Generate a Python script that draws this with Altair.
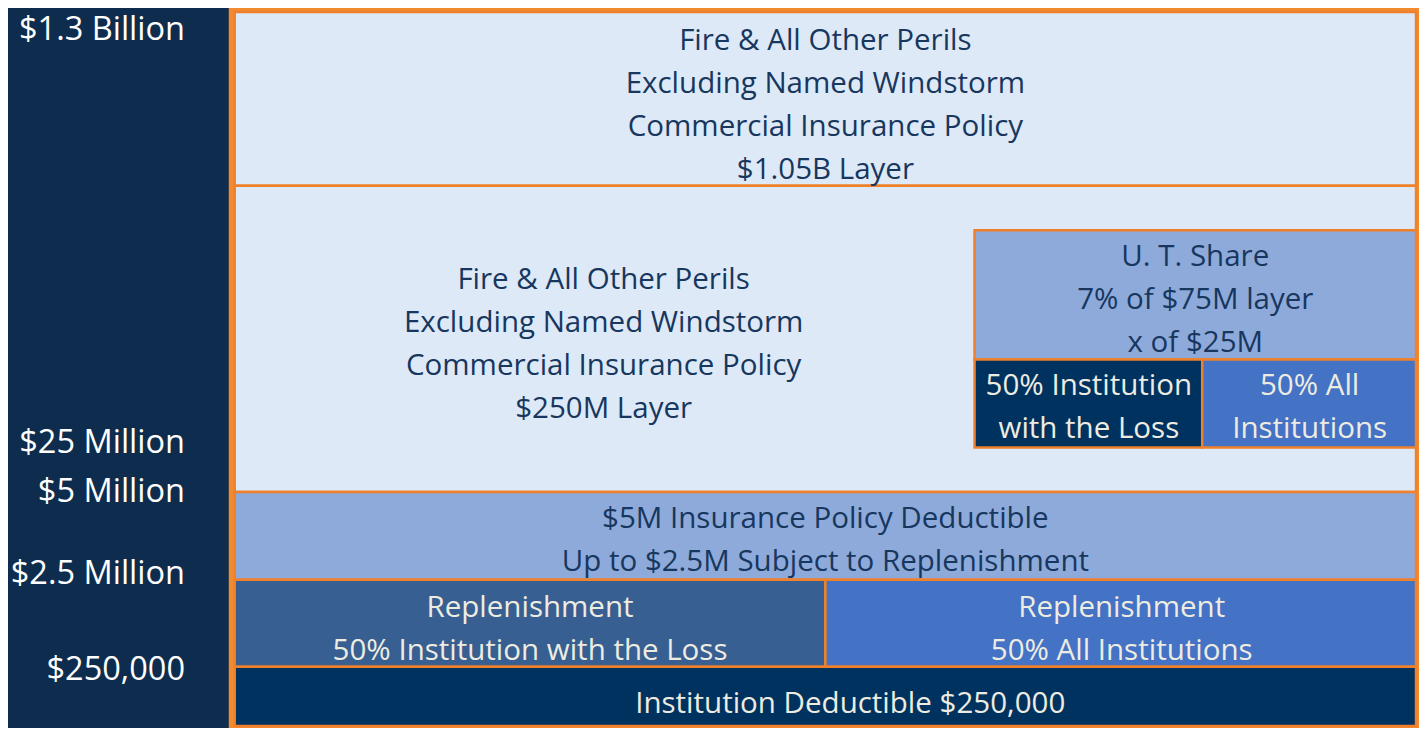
import altair as alt
import pandas as pd

# Tower coordinates (horizontal: tower columns, vertical: tower levels from top)
box_names = ["top", "middle", "ut_share", "ut_left", "ut_right",
             "deductible", "repl_left", "repl_right", "inst_deduct"]
box_x0 = [236, 236, 980, 980, 1209, 236, 236, 830, 236]
box_x1 = [1424, 1424, 1424, 1209, 1424, 1424, 830, 1424, 1424]
box_y0 = [11, 187, 232, 363, 363, 497, 586, 586, 674]
box_y1 = [187, 497, 363, 452, 452, 586, 674, 674, 734]
box_fill = ["#dde9f6", "#dde9f6", "#8eaadb", "#00325f", "#4472c4",
            "#8eaadb", "#375f92", "#4472c4", "#00325f"]

label_text = [
    "Fire & All Other Perils\nExcluding Named Windstorm\nCommercial Insurance Policy\n$1.05B Layer",
    "Fire & All Other Perils\nExcluding Named Windstorm\nCommercial Insurance Policy\n$250M Layer",
    "U. T. Share\n7% of $75M layer\nx of $25M",
    "50% Institution\nwith the Loss",
    "50% All\nInstitutions",
    "$5M Insurance Policy Deductible\nUp to $2.5M Subject to Replenishment",
    "Replenishment\n50% Institution with the Loss",
    "Replenishment\n50% All Institutions",
    "Institution Deductible $250,000",
]
label_x = [830, 607, 1202, 1095, 1317, 830, 533, 1128, 855]
label_y = [40, 282, 259, 390, 390, 524, 614, 614, 712]
label_color = ["#17375e", "#17375e", "#17375e", "#eeece1", "#eeece1",
               "#17375e", "#eeece1", "#eeece1", "#eeece1"]

level_labels = ["$1.3 Billion", "$25 Million", "$5 Million", "$2.5 Million", "$250,000"]
level_y = [29, 447, 497, 580, 677]

boxes = pd.DataFrame({"name": box_names, "x0": box_x0, "x1": box_x1,
                      "y0": box_y0, "y1": box_y1, "fill": box_fill})
labels = pd.DataFrame({"text": label_text, "x": label_x, "y": label_y, "color": label_color})
levels = pd.DataFrame({"text": level_labels, "y": level_y})
frame = pd.DataFrame({"x0": [230], "x1": [1427], "y0": [7], "y1": [736]})

xs = alt.Scale(domain=[8, 1427], nice=False, zero=False)
ys = alt.Scale(domain=[736, 8], nice=False, zero=False)
FONT = "Open Sans"

outer = alt.Chart(frame).mark_rect(color="#f28a30").encode(
    x=alt.X("x0:Q", scale=xs, axis=None), x2="x1:Q",
    y=alt.Y("y0:Q", scale=ys, axis=None), y2="y1:Q",
)

rects = alt.Chart(boxes).mark_rect(stroke="#f0802a", strokeWidth=2.5).encode(
    x=alt.X("x0:Q", scale=xs, axis=None), x2="x1:Q",
    y=alt.Y("y0:Q", scale=ys, axis=None), y2="y1:Q",
    fill=alt.Fill("fill:N", scale=None),
)

texts = alt.Chart(labels).mark_text(
    font=FONT, fontSize=29.5, lineHeight=43, lineBreak="\n",
    align="center", baseline="middle",
).encode(
    x=alt.X("x:Q", scale=xs, axis=None),
    y=alt.Y("y:Q", scale=ys, axis=None),
    text="text:N",
    color=alt.Color("color:N", scale=None),
)

level_text = alt.Chart(levels).mark_text(
    font=FONT, fontSize=32.5, align="right", baseline="middle", color="#ffffff",
).encode(
    x=alt.value(177),
    y=alt.Y("y:Q", scale=ys, axis=None),
    text="text:N",
)

chart = alt.layer(outer, rects, texts, level_text).properties(
    width=1411, height=720,
    autosize=alt.AutoSizeParams(type="fit", contains="padding"),
    padding=0,
    background="#0e2d4e",
).configure_view(stroke=None)

chart.save("out.html", embed_options={"renderer": "svg", "actions": False})
